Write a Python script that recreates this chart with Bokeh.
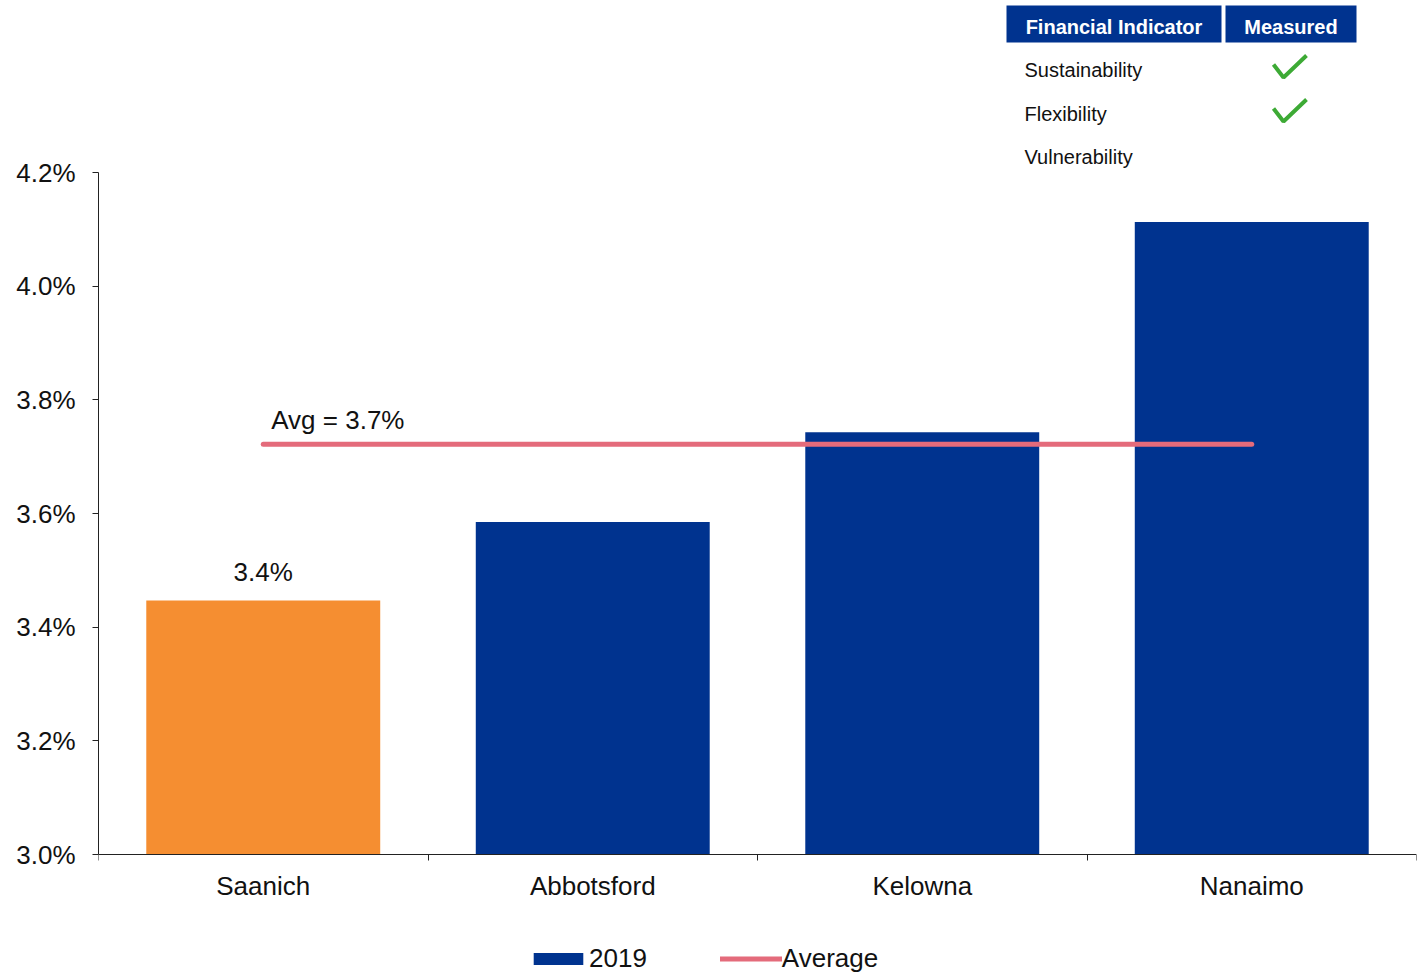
from bokeh.plotting import figure
from bokeh.models import (Range1d, FixedTicker, PrintfTickFormatter, LinearAxis,
                          Legend, LegendItem)
from bokeh.core.properties import value
from bokeh.embed import file_html
from bokeh.resources import INLINE

# ---------------- data ----------------
cities = ["Saanich", "Abbotsford", "Kelowna", "Nanaimo"]
values_2019 = [3.447, 3.585, 3.743, 4.113]
highlight = "Saanich"
y_ticks = [3.0, 3.2, 3.4, 3.6, 3.8, 4.0, 4.2]
indicators = ["Sustainability", "Flexibility", "Vulnerability"]
measured = [True, True, False]
table_headers = ["Financial Indicator", "Measured"]
series_label = "2019"
avg_label = "Average"

# ---------------- style ----------------
NAVY = "#00338F"
ORANGE = "#F58E31"
PINK = "#E46B7B"
GREEN = "#3DAA35"
FONT_NAME = "Liberation Sans"
FONT = value(FONT_NAME)
W, H = 1425, 972
LEFT, RIGHT = 98, 1416          # frame extent in px
Y_BASE_PX, Y_TOP_PX = 854, 172  # pixel rows of 3.0% and 4.2%
PPU_X = (RIGHT - LEFT) / len(cities)
PPU_Y = (Y_BASE_PX - Y_TOP_PX) / (y_ticks[-1] - y_ticks[0])


def dx(px):
    return (px - LEFT) / PPU_X


def dy(py):
    return y_ticks[0] + (Y_BASE_PX - py) / PPU_Y


p = figure(width=W, height=H, output_backend="svg", toolbar_location=None,
           x_range=Range1d(0, len(cities)), y_range=Range1d(dy(H), dy(0)),
           x_axis_location=None, y_axis_location=None,
           min_border_left=LEFT, min_border_right=W - RIGHT,
           min_border_top=0, min_border_bottom=0)
p.outline_line_color = None
p.xgrid.visible = False
p.ygrid.visible = False
p.background_fill_color = "white"
p.border_fill_color = "white"

# ---------------- axes ----------------
yaxis = LinearAxis(ticker=FixedTicker(ticks=y_ticks, minor_ticks=[]),
                   formatter=PrintfTickFormatter(format="%.1f%%"),
                   bounds=(y_ticks[0], y_ticks[-1]))
yaxis.major_tick_in = 0
yaxis.major_tick_out = 6
yaxis.minor_tick_out = 0
yaxis.major_label_standoff = 17
yaxis.major_label_text_font = FONT_NAME
yaxis.major_label_text_font_size = "26px"
yaxis.major_label_text_color = "#111111"
yaxis.axis_line_color = "#222222"
yaxis.major_tick_line_color = "#222222"
p.add_layout(yaxis, "left")

centers = [i + 0.5 for i in range(len(cities))]
xaxis = LinearAxis(ticker=FixedTicker(ticks=centers,
                                      minor_ticks=list(range(len(cities) + 1))),
                   bounds=(0, len(cities)), fixed_location=y_ticks[0])
xaxis.major_label_overrides = {c: n for c, n in zip(centers, cities)}
xaxis.major_tick_in = 0
xaxis.major_tick_out = 0
xaxis.minor_tick_in = 0
xaxis.minor_tick_out = 6
xaxis.minor_tick_line_color = "#222222"
xaxis.axis_line_color = "#222222"
xaxis.major_label_standoff = 10
xaxis.major_label_text_font = FONT_NAME
xaxis.major_label_text_font_size = "26px"
xaxis.major_label_text_color = "#111111"
p.add_layout(xaxis, "below")

# ---------------- bars ----------------
colors = [ORANGE if c == highlight else NAVY for c in cities]
bars = p.vbar(x=centers, top=values_2019, bottom=y_ticks[0], width=0.71,
              fill_color=colors, line_color=None)

avg = sum(values_2019) / len(values_2019)
avg_line = p.line(x=[centers[0], centers[-1]], y=[avg, avg], line_color=PINK,
                  line_width=5, line_cap="round")

hi = cities.index(highlight)
p.text(x=[centers[hi]], y=[values_2019[hi]], text=[f"{values_2019[hi]:.1f}%"],
       text_font=FONT, text_font_size="26px", text_color="#111111",
       text_align="center", text_baseline="middle", y_offset=-28)
p.text(x=[centers[0]], y=[avg], text=[f"Avg = {avg:.1f}%"],
       text_font=FONT, text_font_size="26px", text_color="#111111",
       text_align="left", text_baseline="middle", x_offset=8, y_offset=-24)

# ---------------- indicator table ----------------
hdr_l = [dx(1006), dx(1225)]
hdr_r = [dx(1221), dx(1356)]
p.quad(left=hdr_l, right=hdr_r, top=[dy(5)] * 2, bottom=[dy(42)] * 2,
       fill_color=NAVY, line_color=None)
p.text(x=[(a + b) / 2 for a, b in zip(hdr_l, hdr_r)], y=[dy(26)] * 2,
       text=table_headers, text_font=FONT, text_font_size="20px",
       text_font_style="bold", text_color="white", text_align="center",
       text_baseline="middle")
row_px = [69, 113, 156]
p.text(x=[dx(1024)] * len(indicators), y=[dy(r) for r in row_px], text=indicators,
       text_font=FONT, text_font_size="20px", text_color="#111111",
       text_align="left", text_baseline="middle")
chk_x, chk_y = [], []
for r, m in zip(row_px, measured):
    if m:
        cx, cy = 1290, r - 3
        chk_x.append([dx(cx - 17), dx(cx - 7), dx(cx + 16)])
        chk_y.append([dy(cy - 2), dy(cy + 11), dy(cy - 11)])
p.multi_line(xs=chk_x, ys=chk_y, line_color=GREEN, line_width=4)

# ---------------- legend ----------------
legend = Legend(items=[LegendItem(label=series_label, renderers=[bars], index=1),
                       LegendItem(label=avg_label, renderers=[avg_line])],
                orientation="horizontal", location=(429, -2),
                glyph_width=62, glyph_height=15, label_standoff=0, spacing=73,
                padding=0, margin=0, border_line_color=None,
                background_fill_alpha=0, label_text_font=FONT_NAME,
                label_text_font_size="26px", label_text_color="#111111")
p.add_layout(legend, "center")

open("out.html", "w").write(file_html(p, INLINE))
